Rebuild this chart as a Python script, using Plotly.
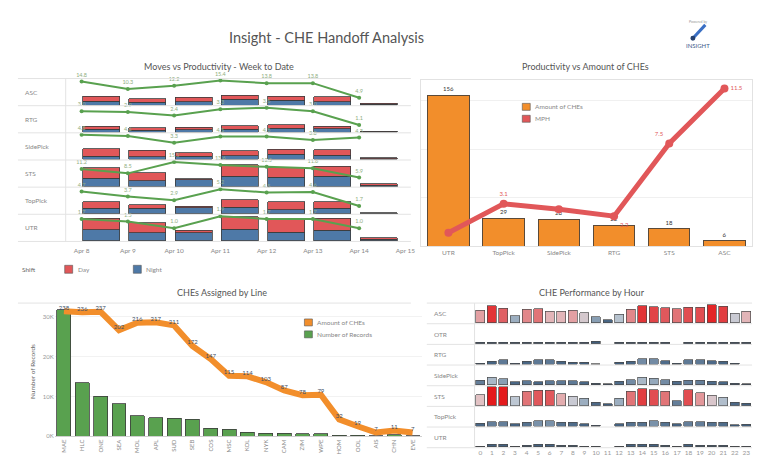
import plotly.graph_objects as go

W, H = 762, 460

# ---------------- Panel 1: Moves vs Productivity - Week to Date ----------------
p1_lines = ["ASC", "RTG", "SidePick", "STS", "TopPick", "UTR"]
p1_days = [8, 9, 10, 11, 12, 13, 14]
p1_tick_days = [8, 9, 10, 11, 12, 13, 14, 15]
p1_tick_labels = ["Apr 8", "Apr 9", "Apr 10", "Apr 11", "Apr 12", "Apr 13", "Apr 14", "Apr 15"]
day_moves = [
    [500, 330, 470, 430, 430, 500, 100],
    [300, 250, 250, 330, 350, 250, 50],
    [760, 670, 330, 500, 500, 560, 80],
    [1070, 830, 130, 1160, 930, 1000, 150],
    [670, 330, 170, 770, 840, 670, 50],
    [1170, 1000, 240, 1300, 1400, 1230, 170],
]
night_moves = [
    [400, 300, 330, 570, 470, 330, 100],
    [300, 200, 250, 330, 400, 350, 50],
    [340, 270, 340, 370, 540, 440, 70],
    [830, 570, 670, 1070, 970, 1070, 150],
    [570, 570, 600, 670, 400, 570, 50],
    [1130, 830, 830, 1170, 900, 1070, 160],
]
productivity = [
    [14.8, 10.3, 12.2, 15.4, 13.8, 13.8, 4.9],
    [3.0, 2.9, 2.4, 3.3, 3.5, 3.0, 1.1],
    [4.8, 4.6, 3.3, 4.5, 4.5, 3.8, 4.3],
    [11.2, 8.5, 15.5, 13.6, 12.5, 11.6, 5.9],
    [4.7, 3.7, 2.9, 5.2, 4.5, 4.6, 1.7],
    [1.7, 1.5, 1.0, 1.9, 1.7, 1.7, 1.0],
]

# ---------------- Panel 2: Productivity vs Amount of CHEs ----------------
p2_lines = ["UTR", "TopPick", "SidePick", "RTG", "STS", "ASC"]
p2_che = [156, 29, 28, 22, 18, 6]
p2_mph = [1.0, 3.1, 2.7, 2.2, 7.5, 11.5]
p2_mph_shown = [False, True, False, True, True, True]

# ---------------- Panel 3: CHEs Assigned by Line ----------------
p3_carriers = ["MAE", "HLC", "ONE", "SEA", "MOL", "APL", "SUD", "SEB", "COS", "MSC",
               "KOL", "NYK", "CAM", "ZIM", "WPE", "HOM", "OOL", "AIS", "CHN", "EVE"]
p3_records = [31800, 13500, 10000, 8100, 5200, 4600, 4500, 4200, 2000, 1700,
              1000, 800, 800, 600, 600, 250, 250, 100, 300, 150]
p3_che = [238, 236, 237, 202, 216, 217, 211, 172, 147, 115,
          114, 103, 87, 78, 79, 32, 19, 7, 11, 7]

# ---------------- Panel 4: CHE Performance by Hour ----------------
p4_lines = ["ASC", "OTR", "RTG", "SidePick", "STS", "TopPick", "UTR"]
p4_hours = list(range(24))
p4_perf = [
    [13.3, 18.3, 15.7, 7.7, 14.3, 15, 12.3, 12.3, 13.3, 10.7, 6.7, 3.3, 9, 14.3, 18.3, 17.3, 16, 15, 16.7, 16.7, 19.3, 17.7, 10, 12.3],
    [1.3, 1.3, 1.3, 1.3, 1.3, 1.3, 1.3, 1.3, 1.3, 1.3, 2.3, None, 1.3, 1.3, 1.3, 1.3, 1.3, None, 1.3, 1.3, 1.3, 1.3, 1.3, 1.3],
    [1, 3, 4.7, 1.3, 3.3, 4.7, 4.7, 3, 2.3, 2.3, 0.7, None, 2.3, 3.3, 5.7, 5.7, 4, 1.3, 4.7, 4.7, 3.7, 3, 1, None],
    [5, 8.3, 6.7, 3.3, 4.7, 3.3, 4.7, 4.7, 4.7, 3.3, 1.7, 1.3, 4, 5.7, 8.3, 7.3, 5.7, 4, 5, 5, 4, 3.3, 1.7, 1.3],
    [11.7, 20, 20, 9.3, 15, 16, 16, 12.7, 10, 7.7, 3.7, 2, 7.7, 15, 17.7, 16.7, 15, 5, 16.7, 13.7, 11, 8.7, 3.7, 2.7],
    [3.3, 5, 5, 2.7, 4.3, 6, 6, 4.3, 4, 2.7, 1, None, 2.7, 4.3, 4.3, 6, 4.3, 2.7, 5, 5, 4.3, 4, 1.7, 2.3],
    [1, 2.7, 2.7, 1, 2, 2.7, 2.7, 2, 2, 1, 0.5, None, 1, 2.7, 2.7, 2.7, 2, 1, 2.7, 2, 2, 2, 1, 1],
]

# ---------------- helpers ----------------
def fx(p):
    return p / W

def fy(p):
    return 1 - p / H

def ykey(n):
    return "yaxis" if n == 1 else f"yaxis{n}"

def yref(n):
    return "y" if n == 1 else f"y{n}"

FONT = "Lato, Open Sans, sans-serif"
TXT = "#6e6e6e"
SEP = "#e3e3e3"
RED = "#e15759"
BLUE = "#4e79a7"
ORANGE = "#f28e2b"
GREEN = "#59a14f"
OUTLINE = "#3c3c3c"

traces = []
shapes = []
annotations = []
layout = dict(
    width=W, height=H, margin=dict(l=0, r=0, t=0, b=0),
    paper_bgcolor="white", plot_bgcolor="white",
    showlegend=False, barmode="stack",
    font=dict(family=FONT, color=TXT, size=7),
)

def hline(y, x0, x1, color=SEP, width=1):
    shapes.append(dict(type="line", xref="paper", yref="paper",
                       x0=fx(x0), x1=fx(x1), y0=fy(y), y1=fy(y),
                       line=dict(color=color, width=width)))

def vline(x, y0, y1, color=SEP, width=1):
    shapes.append(dict(type="line", xref="paper", yref="paper",
                       x0=fx(x), x1=fx(x), y0=fy(y0), y1=fy(y1),
                       line=dict(color=color, width=width)))

def rect(x0, y0, x1, y1, color, line="#555", lw=0.6):
    shapes.append(dict(type="rect", xref="paper", yref="paper",
                       x0=fx(x0), x1=fx(x1), y0=fy(y1), y1=fy(y0),
                       fillcolor=color, line=dict(color=line, width=lw)))

def text(x, y, s, size=7, color=TXT, xanchor="left", **kw):
    annotations.append(dict(x=fx(x), y=fy(y), xref="paper", yref="paper", text=s,
                            showarrow=False, xanchor=xanchor, yanchor="middle",
                            font=dict(size=size, color=color, family=FONT), **kw))

# ---------------- title & logo ----------------
text(320, 30, "Insight - CHE Handoff Analysis", size=14.5, color="#555", xanchor="center")
text(694, 14, "Powered by", size=3.5, color="#999", xanchor="center")
shapes.append(dict(type="line", xref="paper", yref="paper", x0=fx(701), y0=fy(17), x1=fx(689), y1=fy(30),
                   line=dict(color="#3a6fc4", width=3)))
shapes.append(dict(type="circle", xref="paper", yref="paper", x0=fx(686), y0=fy(33), x1=fx(691), y1=fy(28),
                   fillcolor="#24406e", line=dict(width=0)))
text(694, 38, "INSIGHT", size=6, color="#3b5a8a", xanchor="center")
rect(753, 0, 762, 460, "#efefef", line="#efefef", lw=0)

# ---------------- Panel 1 ----------------
text(212, 59, "Moves vs Productivity - Week to Date", size=9, color="#555", xanchor="center")
p1_top, p1_row_h = 71.0, 27.33
x_px_per_day = 46.5
p1_x0, p1_x1 = 58, 405
layout["xaxis"] = dict(
    domain=[fx(p1_x0), fx(p1_x1)],
    range=[8 - (74 - p1_x0) / x_px_per_day, 8 + (p1_x1 - 74) / x_px_per_day],
    tickvals=p1_tick_days, ticktext=p1_tick_labels, anchor=yref(11),
    showgrid=False, zeroline=False, showline=False, ticks="outside", ticklen=3,
    tickcolor="rgba(0,0,0,0)", tickfont=dict(size=6.5, color="#888"),
)
for i, name in enumerate(p1_lines):
    top = p1_top + i * p1_row_h
    bot = top + p1_row_h
    nb, nl = 2 * i + 1, 2 * i + 2
    layout[ykey(nb)] = dict(domain=[fy(bot), fy(top)], range=[-60, 2700], visible=False, anchor="x",
                            fixedrange=True)
    layout[ykey(nl)] = dict(overlaying=yref(nb), range=[0, max(productivity[i]) * 1.08],
                            visible=False, anchor="x")
    traces.append(go.Bar(x=p1_days, y=night_moves[i], xaxis="x", yaxis=yref(nb), offset=0.02, width=0.8,
                         marker=dict(color=BLUE, line=dict(color=OUTLINE, width=0.8)), name="Night"))
    traces.append(go.Bar(x=p1_days, y=day_moves[i], xaxis="x", yaxis=yref(nb), offset=0.02, width=0.8,
                         marker=dict(color=RED, line=dict(color=OUTLINE, width=0.8)), name="Day"))
    traces.append(go.Scatter(x=p1_days, y=productivity[i], xaxis="x", yaxis=yref(nl),
                             mode="lines+markers+text", text=[f"{v:.1f}" for v in productivity[i]],
                             textposition="top center", textfont=dict(size=5.5, color="#8fae80"),
                             line=dict(color=GREEN, width=2), marker=dict(size=4, color=GREEN),
                             cliponaxis=False, name=name))
    hline(top, 10, 405)
    text(15, (top + bot) / 2, name, size=6.5, color="#888")
hline(p1_top + 6 * p1_row_h, 10, 405)
vline(p1_x0, p1_top, p1_top + 6 * p1_row_h)

text(12, 263, "Shift", size=6.5, color="#666")
rect(57, 259, 65, 267, RED)
text(68, 263, "Day", size=6.5, color="#888")
rect(126, 259, 134, 267, BLUE)
text(137, 263, "Night", size=6.5, color="#888")

# ---------------- Panel 2 ----------------
text(581, 59, "Productivity vs Amount of CHEs", size=9, color="#555", xanchor="center")
layout["xaxis2"] = dict(domain=[fx(415), fx(748)], type="category", range=[-0.5, 5.5], anchor=yref(13),
                        showgrid=False, zeroline=False, showline=True, mirror=True, linecolor="#e2e2e2",
                        tickfont=dict(size=6.5, color="#888"))
layout[ykey(13)] = dict(domain=[fy(240), fy(72)], range=[0, 172], anchor="x2", showticklabels=False,
                        showgrid=True, gridcolor="#f0f0f0", dtick=50, zeroline=False,
                        showline=True, mirror=True, linecolor="#e2e2e2")
layout[ykey(14)] = dict(overlaying=yref(13), range=[0, 12.15], visible=False, anchor="x2")
traces.append(go.Bar(x=p2_lines, y=p2_che, xaxis="x2", yaxis=yref(13), width=0.75,
                     marker=dict(color=ORANGE, line=dict(color="#5a4a3a", width=1)),
                     text=[str(v) for v in p2_che], textposition="outside",
                     textfont=dict(size=6, color="#333"), cliponaxis=False, name="Amount of CHEs"))
p2_pos = ["bottom center", "top center", "bottom center", "bottom right", "top left", "middle right"]
traces.append(go.Scatter(x=p2_lines, y=p2_mph, xaxis="x2", yaxis=yref(14), mode="lines+markers+text",
                         text=[f"{v:.1f}" if s else "" for v, s in zip(p2_mph, p2_mph_shown)],
                         textposition=p2_pos, textfont=dict(size=6, color=RED),
                         line=dict(color=RED, width=5), marker=dict(size=8, color=RED),
                         cliponaxis=False, name="MPH"))
rect(517, 96, 525, 103, ORANGE)
text(528, 99.5, "Amount of CHEs", size=6.5, color="#888")
rect(517, 108, 525, 115, RED)
text(528, 111.5, "MPH", size=6.5, color="#888")

# ---------------- Panel 3 ----------------
text(215, 286, "CHEs Assigned by Line", size=9, color="#555", xanchor="center")
hline(297, 10, 405)
layout["xaxis3"] = dict(domain=[fx(47), fx(416)], type="category", range=[-0.5, 19.5], anchor=yref(15),
                        showgrid=False, zeroline=False, showline=True, linecolor="#d0d0d0",
                        tickangle=-90, tickfont=dict(size=6, color="#888"))
layout[ykey(15)] = dict(domain=[fy(431), fy(301)], range=[0, 32500], anchor="x3",
                        tickvals=[0, 10000, 20000, 30000], ticktext=["0K", "10K", "20K", "30K"],
                        tickfont=dict(size=6, color="#999"), showgrid=True, gridcolor="#f2f2f2",
                        zeroline=False, ticks="", title=dict(text="Number of Records", font=dict(size=6.5, color="#666"),
                                                            standoff=6))
layout[ykey(16)] = dict(overlaying=yref(15), range=[0, 246], visible=False, anchor="x3")
traces.append(go.Bar(x=p3_carriers, y=p3_records, xaxis="x3", yaxis=yref(15), width=0.76,
                     marker=dict(color=GREEN, line=dict(color=OUTLINE, width=0.8)), name="Number of Records"))
traces.append(go.Scatter(x=p3_carriers, y=p3_che, xaxis="x3", yaxis=yref(16), mode="lines+text",
                         text=[str(v) for v in p3_che], textposition="top center",
                         textfont=dict(size=6, color="#3d4f66"),
                         line=dict(color=ORANGE, width=6), cliponaxis=False, name="Amount of CHEs"))
rect(298, 313, 306, 320, ORANGE)
text(309, 316.5, "Amount of CHEs", size=6.5, color="#888")
rect(298, 325, 306, 332, GREEN)
text(309, 328.5, "Number of Records", size=6.5, color="#888")

# ---------------- Panel 4 ----------------
text(587, 286, "CHE Performance by Hour", size=9, color="#555", xanchor="center")
p4_top, p4_row_h = 297.0, 20.8
p4_x0, p4_x1 = 469, 748
layout["xaxis4"] = dict(domain=[fx(p4_x0), fx(p4_x1)], range=[-0.5, 23.5], tickvals=p4_hours,
                        anchor=yref(17 + len(p4_lines) - 1), showgrid=False, zeroline=False,
                        showline=False, ticks="", tickfont=dict(size=6.5, color="#999"))
perf_scale = [
    [0.0, "#2e4a68"], [0.2, "#4f6c8a"], [0.35, "#8ea3b8"], [0.48, "#c3ccd6"],
    [0.58, "#e2c4c6"], [0.68, "#e39a9d"], [0.8, "#e0585c"], [1.0, "#e41a1c"],
]
for i, name in enumerate(p4_lines):
    top = p4_top + i * p4_row_h
    bot = top + p4_row_h
    n = 17 + i
    layout[ykey(n)] = dict(domain=[fy(bot), fy(top)], range=[-0.8, 21], visible=False, anchor="x4")
    vals = p4_perf[i]
    traces.append(go.Bar(x=p4_hours, y=vals, xaxis="x4", yaxis=yref(n), width=0.78,
                         marker=dict(color=[v if v is not None else 0 for v in vals],
                                     colorscale=perf_scale, cmin=0, cmax=20,
                                     line=dict(color="#4a4a4a", width=0.7)), name=name))
    hline(top, 421, 748)
    text(426, (top + bot) / 2, name, size=6.5, color="#888")
hline(p4_top + len(p4_lines) * p4_row_h, 421, 748)
vline(p4_x0, p4_top, p4_top + len(p4_lines) * p4_row_h)

layout["shapes"] = shapes
layout["annotations"] = annotations

fig = go.Figure(data=traces, layout=layout)
fig.write_html("out.html")
